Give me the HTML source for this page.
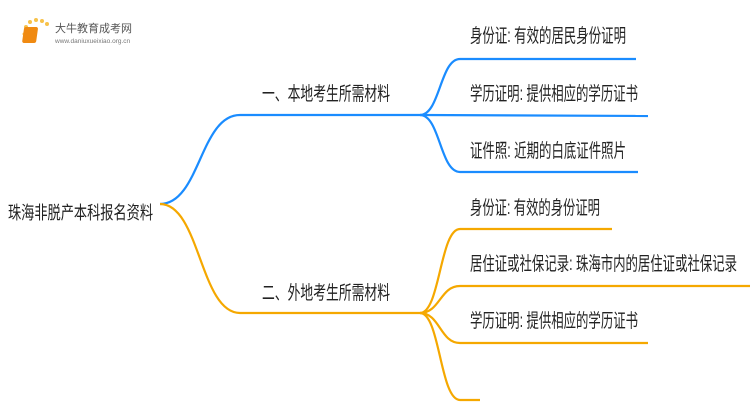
<!DOCTYPE html>
<html><head><meta charset="utf-8"><style>
html,body{margin:0;padding:0;background:#fff;width:750px;height:410px;overflow:hidden}
text{font-family:"Liberation Sans","Noto Sans CJK SC",sans-serif;fill:#222}
</style></head><body>
<svg width="750" height="410" viewBox="0 0 750 410" xmlns="http://www.w3.org/2000/svg">
<g>
<circle cx="26" cy="27" r="2" fill="#f7c24a"/><circle cx="30" cy="22" r="2" fill="#f7c24a"/><circle cx="36" cy="20" r="2" fill="#f7c24a"/><circle cx="42" cy="21" r="2" fill="#f7c24a"/><circle cx="47" cy="24" r="2" fill="#f7c24a"/><circle cx="24" cy="34" r="1.5" fill="#f7c24a"/><circle cx="25" cy="40" r="1.5" fill="#f7c24a"/>
<rect x="28" y="27" width="14" height="16" rx="2" fill="#f08a12" transform="skewX(-8)"/>
<text x="55" y="32" font-size="11" style="fill:#555">大牛教育成考网</text>
<text x="55" y="43" font-size="6.5" style="fill:#777">www.daniuxueixiao.org.cn</text>
</g>
<g fill="none" stroke-width="2.2">
<path d="M160 204 C200 204 200 115 240 115 L420 115" stroke="#1a8cff"/>
<path d="M420 115 C440 115 440 59 460 59 L636 59" stroke="#1a8cff"/>
<path d="M420 115 L648 116" stroke="#1a8cff"/>
<path d="M420 115 C440 115 440 172 460 172 L638 172" stroke="#1a8cff"/>
<path d="M160 204 C200 204 200 313 240 313 L420 313" stroke="#f5a800"/>
<path d="M420 313 C440 313 440 229 460 229 L612 229" stroke="#f5a800"/>
<path d="M420 313 C440 313 440 286 460 286 L750 286" stroke="#f5a800"/>
<path d="M420 313 C440 313 440 343 460 343 L648 343" stroke="#f5a800"/>
<path d="M420 313 C440 313 440 400 460 400 L480 400" stroke="#f5a800"/>
</g>
<text x="8" y="219" font-size="18" textLength="145" lengthAdjust="spacingAndGlyphs">珠海非脱产本科报名资料</text>
<text x="262" y="100" font-size="19" textLength="128" lengthAdjust="spacingAndGlyphs">一、本地考生所需材料</text>
<text x="262" y="299" font-size="19" textLength="128" lengthAdjust="spacingAndGlyphs">二、外地考生所需材料</text>
<text x="470" y="42" font-size="19" textLength="156" lengthAdjust="spacingAndGlyphs">身份证: 有效的居民身份证明</text>
<text x="470" y="100" font-size="19" textLength="168" lengthAdjust="spacingAndGlyphs">学历证明: 提供相应的学历证书</text>
<text x="470" y="157" font-size="19" textLength="156" lengthAdjust="spacingAndGlyphs">证件照: 近期的白底证件照片</text>
<text x="470" y="214" font-size="19" textLength="130" lengthAdjust="spacingAndGlyphs">身份证: 有效的身份证明</text>
<text x="470" y="270" font-size="19" textLength="267" lengthAdjust="spacingAndGlyphs">居住证或社保记录: 珠海市内的居住证或社保记录</text>
<text x="470" y="327" font-size="19" textLength="168" lengthAdjust="spacingAndGlyphs">学历证明: 提供相应的学历证书</text>
</svg>
</body></html>
